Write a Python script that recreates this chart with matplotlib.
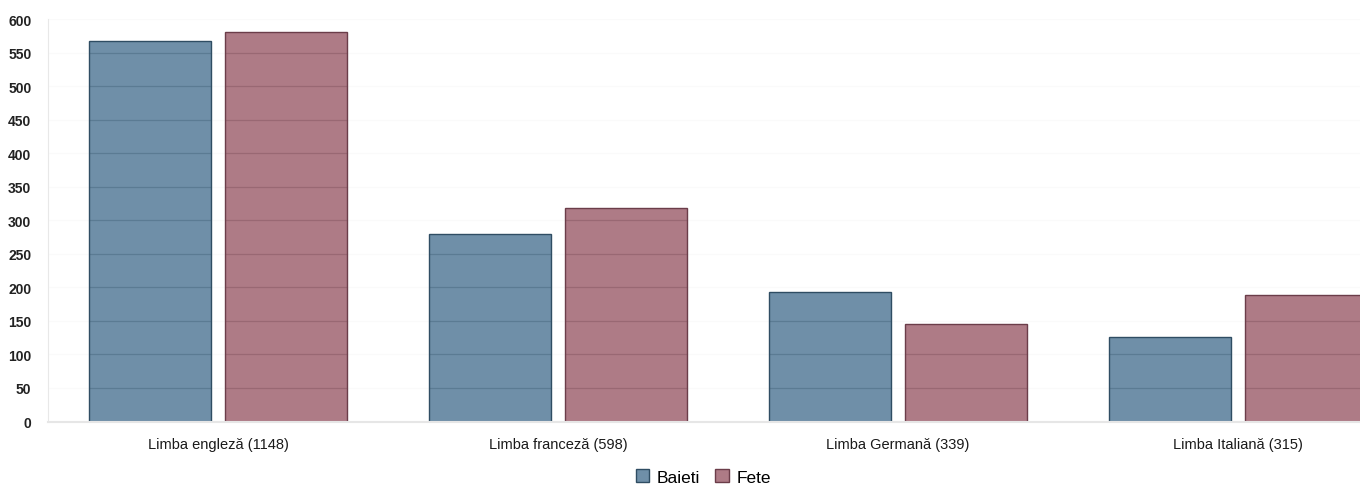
import numpy as np
import matplotlib.pyplot as plt

plt.rcParams['font.family'] = ['Liberation Sans', 'DejaVu Sans']

categories = ['Limba engleză (1148)', 'Limba franceză (598)',
              'Limba Germană (339)', 'Limba Italiană (315)']
baieti = [567, 279, 193, 126]
fete = [581, 319, 146, 189]
yticks = list(range(0, 601, 50))

c_baieti = '#6f8fa8'
e_baieti = '#2f4d63'
c_fete = '#ae7b86'
e_fete = '#6b3d49'

fig = plt.figure(figsize=(13.6, 4.85), dpi=100)
ax = fig.add_axes([48/1360, 62.5/485, 1.0, 402.5/485])

x = np.arange(len(categories))
w = 0.36
b1 = ax.bar(x - 0.2, baieti, w, color=c_baieti, edgecolor=e_baieti, linewidth=1.0,
            label='Baieti', zorder=2)
b2 = ax.bar(x + 0.2, fete, w, color=c_fete, edgecolor=e_fete, linewidth=1.0,
            label='Fete', zorder=2)

# very faint grid in the background
for t in yticks[1:]:
    ax.axhline(t, color='#fafafa', linewidth=0.8, zorder=0)

# grid lines that show through the bars
for bars, ec in ((b1, e_baieti), (b2, e_fete)):
    for bar in bars:
        for t in yticks[1:]:
            ln = ax.axhline(t, color=ec, linewidth=0.9, alpha=0.3, zorder=3)
            ln.set_clip_path(bar)

ax.set_xlim(-0.5, 3.5)
ax.set_ylim(0, 600)
ax.set_yticks(yticks)
ax.set_xticks(x)
ax.set_xticklabels(categories, fontsize=10.5, color='#1a1a1a')
for lb in ax.get_yticklabels():
    lb.set_fontweight('bold')
    lb.set_fontsize(10)
    lb.set_color('#222222')
ax.tick_params(axis='both', length=0)
ax.tick_params(axis='y', pad=12)
ax.tick_params(axis='x', pad=11)

for s in ['top', 'right']:
    ax.spines[s].set_visible(False)
ax.spines['left'].set_color('#e8e8e8')
ax.spines['bottom'].set_color('#e6e6e6')
ax.spines['bottom'].set_linewidth(1.5)

fig.legend(handles=[b1, b2], loc='center', bbox_to_anchor=(0.517, 1 - 478/485),
           ncol=2, frameon=False, fontsize=12.5, handlelength=0.8, handleheight=0.8,
           handletextpad=0.4, columnspacing=0.9)

fig.savefig('out.png', dpi=100)
